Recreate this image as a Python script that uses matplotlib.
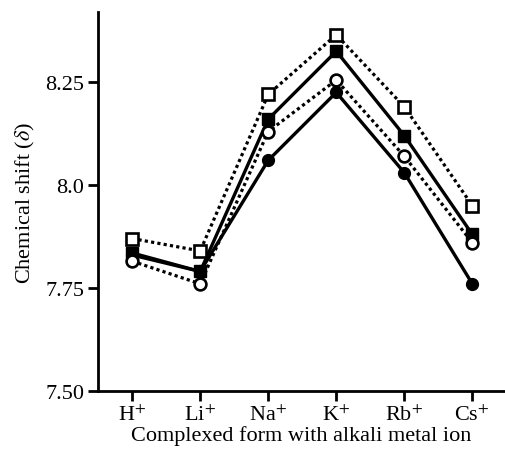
import matplotlib.pyplot as plt

plt.rcParams['font.family'] = ['Liberation Serif', 'DejaVu Serif']
plt.rcParams['mathtext.fontset'] = 'stix'

ions = ['H$^{+}$', 'Li$^{+}$', 'Na$^{+}$', 'K$^{+}$', 'Rb$^{+}$', 'Cs$^{+}$']
# four series
open_sq = [7.87, 7.84, 8.22, 8.365, 8.19, 7.95]
filled_sq = [7.835, 7.79, 8.16, 8.325, 8.12, 7.88]
open_circ = [7.815, 7.76, 8.13, 8.255, 8.07, 7.86]
filled_circ = [7.83, 7.79, 8.06, 8.225, 8.03, 7.76]
yticks = [7.50, 7.75, 8.0, 8.25]
ytick_labels = ['7.50', '7.75', '8.0', '8.25']

fig = plt.figure(figsize=(5.06, 4.52), dpi=100)
ax = fig.add_axes([0.194, 0.133, 0.804, 0.838])
x = list(range(len(ions)))

dots = (0, (1, 1.0))
ax.plot(x, filled_circ, '-', color='black', lw=2.4, marker='o', ms=8.5,
        mfc='black', mec='black', zorder=3)
ax.plot(x, filled_sq, '-', color='black', lw=2.4, marker='s', ms=9,
        mfc='black', mec='black', zorder=3)
ax.plot(x, open_circ, linestyle=dots, color='black', lw=2.3, marker='o', ms=8.5,
        mfc='white', mec='black', mew=1.9, zorder=4)
ax.plot(x, open_sq, linestyle=dots, color='black', lw=2.3, marker='s', ms=9,
        mfc='white', mec='black', mew=1.9, zorder=4)

ax.set_xlim(-0.5, 5.48)
ax.set_ylim(7.50, 8.42)
ax.set_xticks(x)
ax.set_xticklabels(ions, fontsize=16)
ax.set_yticks(yticks)
ax.set_yticklabels(ytick_labels, fontsize=16)
ax.spines['top'].set_visible(False)
ax.spines['right'].set_visible(False)
ax.spines['left'].set_linewidth(2)
ax.spines['bottom'].set_linewidth(2)
ax.tick_params(direction='out', length=7, width=2, pad=3)

ax.set_xlabel('Complexed form with alkali metal ion', fontsize=16, labelpad=0)
ax.set_ylabel(r'Chemical shift ($\delta$)', fontsize=16, labelpad=6)

fig.savefig('out.png', dpi=100)
